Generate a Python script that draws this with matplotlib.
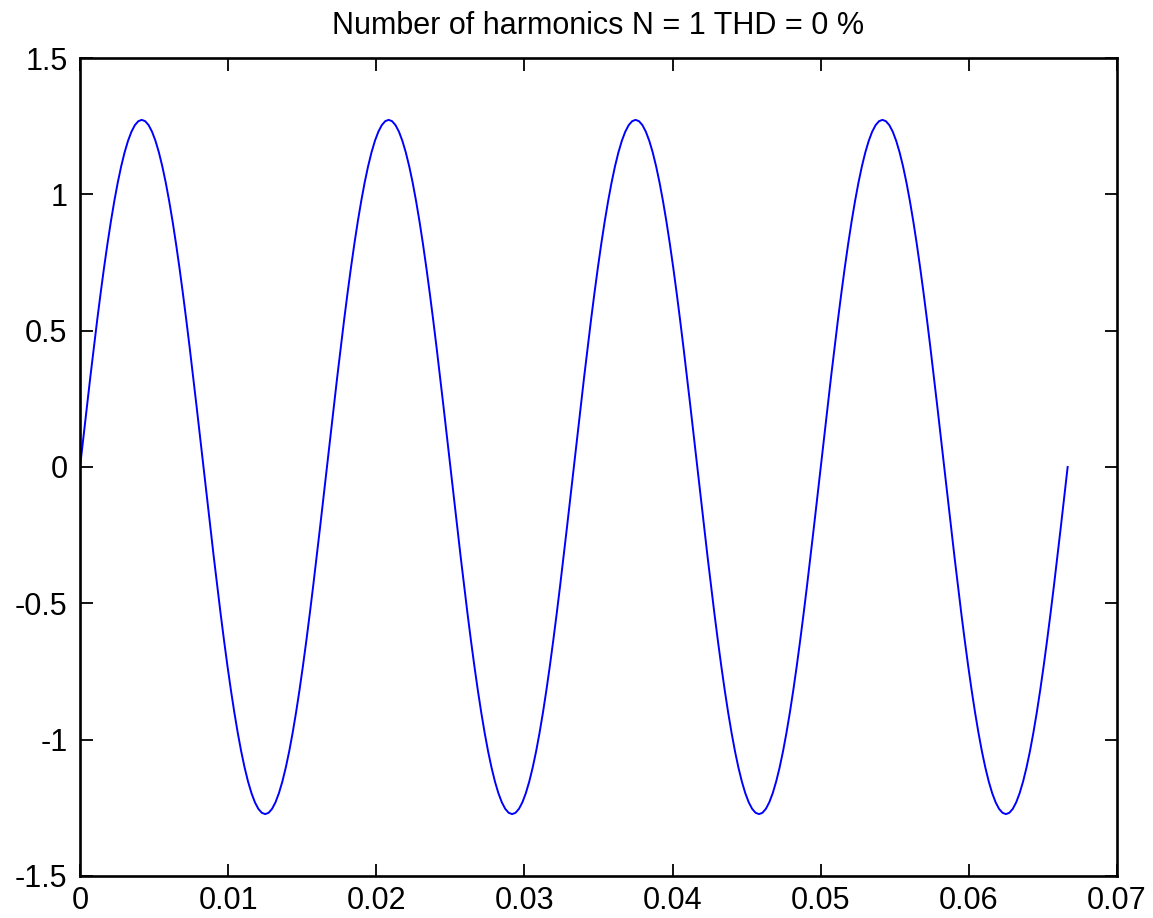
import matplotlib
matplotlib.use("Agg")
import matplotlib.pyplot as plt
import numpy as np

plt.rcParams["font.family"] = ["Liberation Sans", "DejaVu Sans"]

quarter = [0.0, 0.1110, 0.2211, 0.3295, 0.4355, 0.5381, 0.6366, 0.7303, 0.8184, 0.9003,
           0.9753, 1.0430, 1.1026, 1.1539, 1.1964, 1.2298, 1.2539, 1.2683, 1.2732]
n_cycles = 4
dt = 1.0 / (60 * 72)  # sample spacing in seconds

half = quarter + quarter[-2:0:-1]
cycle = half + [-v for v in half]
y = np.array(cycle * n_cycles + [0.0])
t = np.arange(len(y)) * dt

xticks = [0, 0.01, 0.02, 0.03, 0.04, 0.05, 0.06, 0.07]
yticks = [-1.5, -1, -0.5, 0, 0.5, 1, 1.5]
ytick_labels = ["-1.5", "-1", "-0.5", "0", "0.5", "1", "1.5"]
xtick_labels = ["0", "0.01", "0.02", "0.03", "0.04", "0.05", "0.06", "0.07"]

fig = plt.figure(figsize=(11.53, 9.18), dpi=100)
ax = fig.add_axes([0.0694, 0.0458, 0.8994, 0.891])

ax.plot(t, y, color="#0000ff", lw=1.4)

ax.set_xlim(0, 0.07)
ax.set_ylim(-1.5, 1.5)
ax.set_xticks(xticks)
ax.set_xticklabels(xtick_labels)
ax.set_yticks(yticks)
ax.set_yticklabels(ytick_labels)
ax.tick_params(direction="in", length=9, width=1.3, labelsize=22, top=True, right=True)
ax.tick_params(axis="y", pad=9)
ax.tick_params(axis="x", pad=7)
for s in ax.spines.values():
    s.set_linewidth(1.9)

ax.set_title("Number of harmonics N = 1 THD = 0 %", fontsize=22, pad=17)

fig.savefig("out.png", dpi=100)
